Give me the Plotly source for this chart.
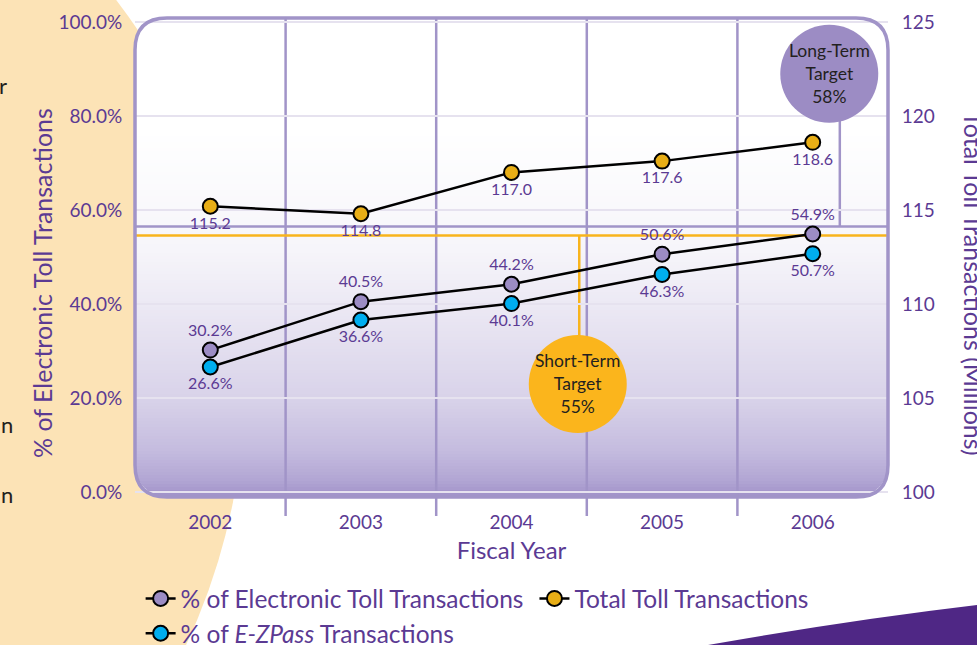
import math
import plotly.graph_objects as go

# ---------------- data ----------------
years = ["2002", "2003", "2004", "2005", "2006"]
electronic_pct = [30.2, 40.5, 44.2, 50.6, 54.9]
ezpass_pct = [26.6, 36.6, 40.1, 46.3, 50.7]
total_toll = [115.2, 114.8, 117.0, 117.6, 118.6]
left_tickvals = [0, 20, 40, 60, 80, 100]
left_ticktext = ["0.0%", "20.0%", "40.0%", "60.0%", "80.0%", "100.0%"]
right_tickvals = [100, 105, 110, 115, 120, 125]
short_term_target = 55
long_term_target = 58

# ---------------- style ----------------
FONT = "Lato, 'Open Sans', sans-serif"
PURPLE_TXT = "#5B3A93"
GRID = "#E6E2EF"
BORDER = "#A194C8"
PEACH = "#FCE3B6"
ORANGE = "#F8B41D"
LT_CIRCLE = "#9C8CC4"
ST_CIRCLE = "#FBB51C"
W, H = 977, 645
L, R, T, B = 135, 888, 18, 497  # plot area in pixels


def pp(x, y):
    """pixel -> paper coordinates (decoration only)"""
    return (x - L) / (R - L), (B - y) / (B - T)


def path_from(points):
    s = ""
    for cmd, pts in points:
        s += cmd
        s += " ".join("%.5f,%.5f" % pp(*p) for p in pts) + " "
    return s + "Z"


shapes = []

# peach page background (decoration)
cx, cy, rad = -380, 380, 625
x0, y0 = pp(cx - rad, cy + rad)
x1, y1 = pp(cx + rad, cy - rad)
shapes.append(dict(type="circle", xref="paper", yref="paper", x0=x0, y0=y0, x1=x1, y1=y1,
                   fillcolor=PEACH, line=dict(width=0), layer="below"))

# dark wedge bottom-right (decoration)
shapes.append(dict(type="path", xref="paper", yref="paper", layer="below",
                   path=path_from([("M", [(708, 645)]), ("Q", [(850, 620), (977, 605)]), ("L", [(977, 645)])]),
                   fillcolor="#4F2785", line=dict(width=0)))

rc = 32


def rounded_rect():
    return path_from([
        ("M", [(L + rc, T)]), ("L", [(R - rc, T)]), ("Q", [(R, T), (R, T + rc)]),
        ("L", [(R, B - rc)]), ("Q", [(R, B), (R - rc, B)]), ("L", [(L + rc, B)]),
        ("Q", [(L, B), (L, B - rc)]), ("L", [(L, T + rc)]), ("Q", [(L, T), (L + rc, T)]),
    ])


shapes.append(dict(type="path", xref="paper", yref="paper", layer="below",
                   path=rounded_rect(), fillcolor="white", line=dict(width=0)))

# vertical gradient of the plot panel
stops = [(130, (255, 255, 255)), (250, (246, 245, 250)), (305, (236, 233, 244)),
         (400, (216, 210, 233)), (450, (197, 188, 223)), (480, (178, 166, 212)),
         (497, (160, 145, 200))]


def col_at(y):
    for (ya, ca), (yb, cb) in zip(stops, stops[1:]):
        if ya <= y <= yb:
            t = (y - ya) / (yb - ya)
            c = [round(a + (b - a) * t) for a, b in zip(ca, cb)]
            return "rgb(%d,%d,%d)" % tuple(c)
    return "rgb(%d,%d,%d)" % stops[-1][1]


def inset(y):
    if y <= B - rc:
        return 0.0
    d = min(y - (B - rc), rc)
    return rc - math.sqrt(max(rc * rc - d * d, 0))


step = 3
y = 130
while y < B:
    ya, yb = y, min(y + step + 0.6, B)
    shapes.append(dict(type="path", xref="paper", yref="paper", layer="below",
                       path=path_from([("M", [(L + inset(ya), ya)]), ("L", [(R - inset(ya), ya)]),
                                       ("L", [(R - inset(yb), yb)]), ("L", [(L + inset(yb), yb)])]),
                       fillcolor=col_at((ya + yb) / 2), line=dict(width=0)))
    y += step

# vertical category separators (extending below the panel as ticks)
for i in range(len(years) - 1):
    shapes.append(dict(type="line", xref="x", yref="paper", x0=i + 0.5, x1=i + 0.5,
                       y0=pp(0, 516)[1], y1=1, line=dict(color=BORDER, width=2.5), layer="below"))

# target reference lines
shapes.append(dict(type="line", xref="paper", yref="y", x0=0, x1=1, y0=short_term_target - 0.4,
                   y1=short_term_target - 0.4, line=dict(color=ORANGE, width=2.5), layer="below"))
shapes.append(dict(type="line", xref="paper", yref="y", x0=0, x1=1, y0=56.5, y1=56.5,
                   line=dict(color=BORDER, width=2.5), layer="below"))
shapes.append(dict(type="line", xref="x", yref="y", x0=2.45, x1=2.45, y0=short_term_target - 0.4, y1=33,
                   line=dict(color=ORANGE, width=2.5), layer="below"))
shapes.append(dict(type="line", xref="x", yref="y", x0=4.18, x1=4.18, y0=56.5, y1=79,
                   line=dict(color=BORDER, width=2.5), layer="below"))

# panel border
shapes.append(dict(type="path", xref="paper", yref="paper", layer="above",
                   path=rounded_rect(), line=dict(color=BORDER, width=3.5)))

# target circles
shapes.append(dict(type="circle", xref="x", yref="y", xsizemode="pixel", ysizemode="pixel",
                   xanchor=2.44, yanchor=23.0, x0=-49, x1=49, y0=-49, y1=49,
                   fillcolor=ST_CIRCLE, line=dict(width=0), layer="above"))
shapes.append(dict(type="circle", xref="x", yref="y", xsizemode="pixel", ysizemode="pixel",
                   xanchor=4.11, yanchor=89.0, x0=-49, x1=49, y0=-49, y1=49,
                   fillcolor=LT_CIRCLE, line=dict(width=0), layer="above"))

annotations = [
    dict(x=2.44, y=23.0, xref="x", yref="y", showarrow=False,
         text="Short-Term<br>Target<br>%d%%" % short_term_target,
         font=dict(family=FONT, size=17.5, color="#231F20")),
    dict(x=4.11, y=89.0, xref="x", yref="y", showarrow=False,
         text="Long-Term<br>Target<br>%d%%" % long_term_target,
         font=dict(family=FONT, size=17.5, color="#231F20")),
    dict(x=pp(974, 0)[0], y=pp(0, 284)[1], xref="paper", yref="paper", showarrow=False,
         xanchor="center", yanchor="middle",
         text="Total Toll Transactions (Millions)", textangle=90,
         font=dict(family=FONT, size=25, color=PURPLE_TXT)),
    dict(x=pp(42, 0)[0], y=pp(0, 283)[1], xref="paper", yref="paper", showarrow=False,
         xanchor="center", yanchor="middle",
         text="% of Electronic Toll Transactions", textangle=-90,
         font=dict(family=FONT, size=25, color=PURPLE_TXT)),
]
for txt, ypix, xr in [("r", 70, 9), ("n", 440, 15), ("n", 510, 15)]:
    annotations.append(dict(x=pp(xr, 0)[0], y=pp(0, ypix)[1], xref="paper", yref="paper",
                            xanchor="right", showarrow=False, text=txt,
                            font=dict(family=FONT, size=22, color="#231F20")))

fig = go.Figure()
fig.add_trace(go.Scatter(
    x=years, y=electronic_pct, name="% of Electronic Toll Transactions", legendrank=1,
    mode="lines+markers+text", texttemplate="%{y:.1f}%", textposition="top center",
    textfont=dict(family=FONT, size=16, color=PURPLE_TXT),
    line=dict(color="black", width=2.5),
    marker=dict(size=15, color="#9C8CC4", line=dict(color="black", width=2)),
    cliponaxis=False))
fig.add_trace(go.Scatter(
    x=years, y=ezpass_pct, name="% of <i>E-ZPass</i> Transactions", legendrank=3,
    mode="lines+markers+text", texttemplate="%{y:.1f}%", textposition="bottom center",
    textfont=dict(family=FONT, size=16, color=PURPLE_TXT),
    line=dict(color="black", width=2.5),
    marker=dict(size=15, color="#00AEEF", line=dict(color="black", width=2)),
    cliponaxis=False))
fig.add_trace(go.Scatter(
    x=years, y=total_toll, name="Total Toll Transactions", legendrank=2, yaxis="y2",
    mode="lines+markers+text", texttemplate="%{y:.1f}", textposition="bottom center",
    textfont=dict(family=FONT, size=16, color=PURPLE_TXT),
    line=dict(color="black", width=2.5),
    marker=dict(size=15, color="#E8AE16", line=dict(color="black", width=2)),
    cliponaxis=False))

ymin = -1.06
ymax = ymin + 101.91

fig.update_layout(
    width=W, height=H,
    margin=dict(l=L, r=W - R, t=T, b=H - B, autoexpand=False),
    paper_bgcolor="white", plot_bgcolor="rgba(0,0,0,0)",
    font=dict(family=FONT, color=PURPLE_TXT),
    shapes=shapes, annotations=annotations,
    xaxis=dict(type="category", range=[-0.5, 4.5], showgrid=False, zeroline=False, showline=False,
               ticks="outside", ticklen=8, tickcolor="rgba(0,0,0,0)",
               tickfont=dict(family=FONT, size=19, color=PURPLE_TXT),
               title=dict(text="Fiscal Year", standoff=10, font=dict(family=FONT, size=24, color=PURPLE_TXT))),
    yaxis=dict(range=[ymin, ymax], tickvals=left_tickvals, ticktext=left_ticktext,
               showgrid=True, gridcolor=GRID, gridwidth=2, zeroline=False, showline=False,
               ticks="outside", ticklen=8, tickcolor="rgba(0,0,0,0)",
               tickfont=dict(family=FONT, size=19, color=PURPLE_TXT)),
    yaxis2=dict(overlaying="y", side="right", range=[100 + ymin / 4, 100 + ymax / 4],
                tickvals=right_tickvals, showgrid=False, zeroline=False, showline=False,
                ticks="outside", ticklen=9, tickcolor="rgba(0,0,0,0)",
                tickfont=dict(family=FONT, size=19, color=PURPLE_TXT)),
    showlegend=True,
    legend=dict(orientation="h", x=-0.0005, y=pp(0, 576)[1], xanchor="left", yanchor="top",
                indentation=6,
                bgcolor="rgba(0,0,0,0)", font=dict(family=FONT, size=24.5, color=PURPLE_TXT),
                traceorder="normal", tracegroupgap=0),
)

fig.write_html("out.html", config={"displayModeBar": False},
               post_script="document.body.style.margin='0';document.body.style.overflow='hidden';")
